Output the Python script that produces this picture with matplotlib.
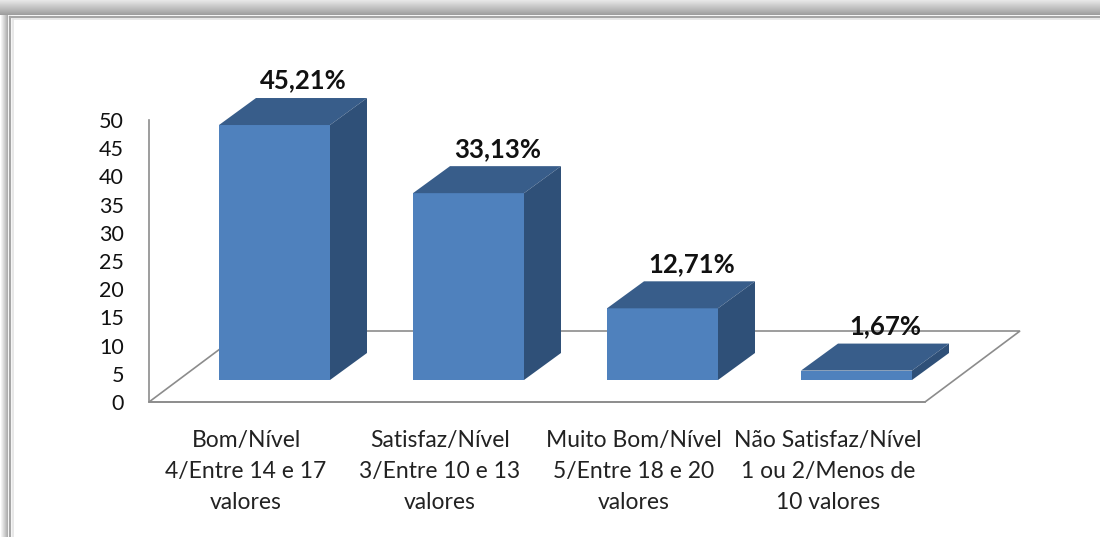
import numpy as np
import matplotlib
matplotlib.use("Agg")
import matplotlib.pyplot as plt
from matplotlib.patches import Polygon

categories = ["Bom/Nível\n4/Entre 14 e 17\nvalores",
              "Satisfaz/Nível\n3/Entre 10 e 13\nvalores",
              "Muito Bom/Nível\n5/Entre 18 e 20\nvalores",
              "Não Satisfaz/Nível\n1 ou 2/Menos de\n10 valores"]
values = [45.21, 33.13, 12.71, 1.67]
labels = ["45,21%", "33,13%", "12,71%", "1,67%"]
yticks = [0, 5, 10, 15, 20, 25, 30, 35, 40, 45, 50]

W, H = 1100, 537
plt.rcParams['font.family'] = ['Lato', 'DejaVu Sans']
fig = plt.figure(figsize=(W / 100, H / 100), dpi=100)

# grey shadow around the picture frame, in pixels
bg = fig.add_axes([0, 0, 1, 1])
bg.set_xlim(0, W)
bg.set_ylim(H, 0)
bg.axis("off")
left_band = np.linspace(1.0, 0.68, 8).reshape(1, -1)
top_band = np.linspace(0.90, 0.62, 15).reshape(-1, 1)
bg.imshow(left_band, extent=[0, 8, H, 0], cmap="gray", vmin=0, vmax=1, aspect="auto")
bg.imshow(top_band, extent=[0, W, 15, 0], cmap="gray", vmin=0, vmax=1, aspect="auto")
bg.set_xlim(0, W)
bg.set_ylim(H, 0)
bg.plot([10, 10], [16.5, H], color="#a6a6a6", lw=1.6)
bg.plot([10, W], [16.5, 16.5], color="#a6a6a6", lw=1.6)
bg.plot([12.5, 12.5], [19, H], color="#e4e4e4", lw=1.2)
bg.plot([12.5, W], [19, 19], color="#e4e4e4", lw=1.2)

# main axes, 0-50 runs from y=402 to y=120, four category slots 194 px wide
ax = fig.add_axes([149 / W, 1 - 402 / H, 776 / W, 282 / H])
ax.patch.set_alpha(0)
ax.set_xlim(0, 4)
ax.set_ylim(0, 50)
unit_x = 776 / 4
unit_y = 282 / 50

# depth offsets turned into data units
floor_dx, floor_dy = 95 / unit_x, 71 / unit_y
bar_dx, bar_dy = 37 / unit_x, 27 / unit_y
base = 22 / unit_y
bar_w = 111 / unit_x
x = np.arange(len(values)) + 125.5 / unit_x

ax.add_patch(Polygon([(0, 0), (4, 0), (4 + floor_dx, floor_dy), (floor_dx, floor_dy)],
                     closed=True, fc="white", ec="#8c8c8c", lw=1.2, clip_on=False, zorder=1))

ax.bar(x, values, width=bar_w, bottom=base, color="#4f81bd", zorder=3)
for xi, v, lab in zip(x, values, labels):
    x0, x1 = xi - bar_w / 2, xi + bar_w / 2
    y0, y1 = base, base + v
    ax.add_patch(Polygon([(x0, y1), (x1, y1), (x1 + bar_dx, y1 + bar_dy), (x0 + bar_dx, y1 + bar_dy)],
                         closed=True, fc="#385d8a", ec="none", clip_on=False, zorder=3))
    ax.add_patch(Polygon([(x1, y0), (x1 + bar_dx, y0 + bar_dy), (x1 + bar_dx, y1 + bar_dy), (x1, y1)],
                         closed=True, fc="#2f5078", ec="none", clip_on=False, zorder=3))
    ax.annotate(lab, (xi, y1), xytext=(21, 32), textcoords="offset points", ha="center", va="center",
                fontsize=18.5, fontweight="bold", color="#111111", annotation_clip=False, zorder=5)

for s in ["top", "right"]:
    ax.spines[s].set_visible(False)
for s in ["left", "bottom"]:
    ax.spines[s].set_color("#8c8c8c")
    ax.spines[s].set_linewidth(1.2)
    ax.spines[s].set_zorder(2)

ax.set_yticks(yticks)
ax.set_yticklabels([str(t) for t in yticks])
ax.tick_params(axis="y", length=0, pad=18, labelsize=15.5, labelcolor="#111111")
ax.set_xticks(np.arange(4) + 0.5)
ax.set_xticklabels(categories, linespacing=1.56)
ax.tick_params(axis="x", length=0, pad=20.5, labelsize=16.5, labelcolor="#222222")

fig.savefig("out.png", dpi=100)
